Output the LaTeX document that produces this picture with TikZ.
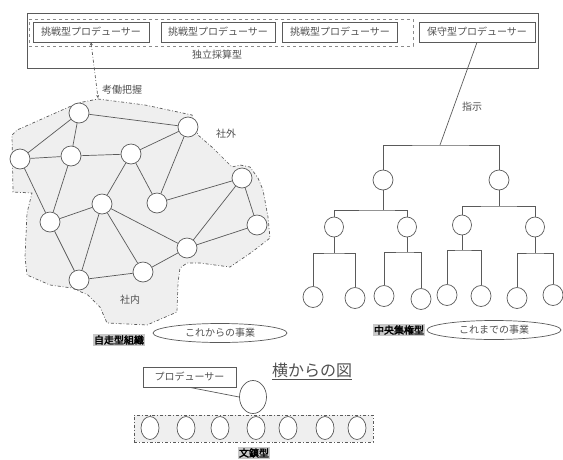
\documentclass[tikz,border=0pt]{standalone}
\usepackage{fontspec}
\setmainfont{Noto Sans CJK JP}
\newfontfamily\jpb[FakeBold=2.5]{Noto Sans CJK JP}
\usetikzlibrary{arrows.meta,shapes.geometric}
\definecolor{ln}{HTML}{5A5A5A}
\definecolor{tx}{HTML}{505050}
\definecolor{blobfill}{HTML}{EFEFEF}
\definecolor{lbl}{HTML}{C8C8C8}
\tikzset{
  box/.style={draw=ln, line width=0.7pt, inner sep=0pt, minimum height=20, text=tx},
  netnode/.style={circle, draw=ln, fill=white, minimum size=20, inner sep=0pt, line width=0.7pt},
  treenode/.style={ellipse, draw=ln, fill=white, minimum width=20, minimum height=21, inner sep=0pt, line width=0.7pt},
  rownode/.style={ellipse, draw=ln, fill=white, minimum width=18, minimum height=23, inner sep=0pt, line width=0.7pt},
  edge/.style={draw=ln, line width=0.7pt},
  ddline/.style={draw=ln, line width=0.7pt, dash pattern=on 3pt off 2pt on 0.8pt off 2pt},
  tag/.style={fill=lbl, font=\jpb\fontsize{10}{12}\selectfont, text=black, inner sep=1pt},
  txt/.style={text=tx, inner sep=0pt},
  oval/.style={ellipse, draw=ln, line width=0.7pt, minimum width=134, minimum height=19, inner sep=0pt, text=tx}
}
\begin{document}
\begin{tikzpicture}[x=1pt,y=-1pt, font=\fontsize{10}{12}\selectfont]
\useasboundingbox (0,0) rectangle (563,459);

% ---------- top boxes ----------
\node[box, minimum width=511, minimum height=55] (outer) at (282.5,40.5) {};
\node[draw=ln!70, dashed, line width=0.7pt, minimum width=384, minimum height=27, inner sep=0pt] (grp) at (221,32.5) {};
\node[box, minimum width=116] (p1) at (91,32) {挑戦型プロデューサー};
\node[box, minimum width=114] (p2) at (218,32) {挑戦型プロデューサー};
\node[box, minimum width=115] (p3) at (340,32) {挑戦型プロデューサー};
\node[box, minimum width=116] (p4) at (477,32) {保守型プロデューサー};
\node[txt] (indep) at (217,55) {独立採算型};

% ---------- self-running organisation ----------
\fill[blobfill] (98,99) -- (145,105) -- (192,115) -- (198,135) -- (213,148) -- (232,167)
  -- (240,165) -- (250,167) -- (258,178) -- (263,190) -- (268,217) -- (270,238)
  -- (252,252) -- (230,267) -- (200,263) -- (187,263) -- (180,268) -- (178,283)
  -- (177,312) -- (147,325) -- (107,323) -- (100,307) -- (88,295) -- (72,288)
  -- (50,285) -- (27,275) -- (25,257) -- (27,213) -- (32,193) -- (13,192)
  -- (12,135) -- (17,130) -- (78,103) -- cycle;
\draw[ddline] (98,99) -- (145,105) -- (192,115) -- (198,135) -- (213,148) -- (232,167)
  -- (240,165) -- (250,167) -- (258,178) -- (263,190) -- (268,217) -- (270,238)
  -- (252,252) -- (230,267) -- (200,263) -- (187,263) -- (180,268) -- (178,283)
  -- (177,312) -- (147,325) -- (107,323) -- (100,307) -- (88,295) -- (72,288)
  -- (50,285) -- (27,275) -- (25,257) -- (27,213) -- (32,193) -- (13,192)
  -- (12,135) -- (17,130) -- (78,103) -- cycle;

\node[netnode] (a) at (79,113) {};
\node[netnode] (b) at (188,127) {};
\node[netnode] (c) at (20,159) {};
\node[netnode] (d) at (71,156) {};
\node[netnode] (e) at (131,154) {};
\node[netnode] (f) at (157,203) {};
\node[netnode] (g) at (242,178) {};
\node[netnode] (h) at (102,204) {};
\node[netnode] (i) at (50,222) {};
\node[netnode] (j) at (257,225) {};
\node[netnode] (k) at (187,248) {};
\node[netnode] (l) at (143,272) {};
\node[netnode] (m) at (79,280) {};

\draw[edge] (a) -- (b);
\draw[edge] (a) -- (c);
\draw[edge] (a) -- (d);
\draw[edge] (c) -- (d);
\draw[edge] (c) -- (i);
\draw[edge] (d) -- (e);
\draw[edge] (d) -- (i);
\draw[edge] (e) -- (b);
\draw[edge] (e) -- (h);
\draw[edge] (e) -- (f);
\draw[edge] (f) -- (b);
\draw[edge] (f) -- (g);
\draw[edge] (g) -- (j);
\draw[edge] (g) -- (k);
\draw[edge] (j) -- (k);
\draw[edge] (h) -- (i);
\draw[edge] (h) -- (m);
\draw[edge] (h) -- (l);
\draw[edge] (h) -- (k);
\draw[edge] (i) -- (m);
\draw[edge] (m) -- (l);
\draw[edge] (l) -- (k);

\coordinate (nettop) at (98,98);
\draw[ddline, {Stealth[length=3pt,width=3pt]}-{Stealth[length=3pt,width=3pt]}] (p1.south) -- (nettop);
\node[txt] (grasp) at (122,90) {考働把握};
\node[txt] (outside) at (226,134) {社外};
\node[txt] (inside) at (130,300) {社内};

\node[tag] (selfrun) at (119,340) {自走型組織};
\node[oval] (future) at (220,333) {これからの事業};

% ---------- centralised tree ----------
\node[treenode, minimum height=20] (t1) at (383,180) {};
\node[treenode, minimum height=20] (t2) at (499,180) {};
\node[treenode, minimum width=19, minimum height=20] (t11) at (334,227) {};
\node[treenode, minimum width=19, minimum height=20] (t12) at (407,227) {};
\node[treenode, minimum width=19, minimum height=20] (t21) at (462,225) {};
\node[treenode, minimum width=19, minimum height=20] (t22) at (535,227) {};
\node[treenode] (l1) at (313,297) {};
\node[treenode] (l2) at (355,298) {};
\node[treenode] (l3) at (384,296) {};
\node[treenode] (l4) at (421,299) {};
\node[treenode] (l5) at (447,295) {};
\node[treenode] (l6) at (481,296) {};
\node[treenode] (l7) at (517,298) {};
\node[treenode] (l8) at (553,295) {};

\coordinate (top) at (440,145);
\coordinate (b1) at (383,210);
\coordinate (b2) at (499,206);
\coordinate (b11) at (334,253);
\coordinate (b12) at (407,252);
\coordinate (b21) at (462,250);
\coordinate (b22) at (535,253);

\draw[edge] (p4.south) -- (top);
\draw[edge] (t1.north) |- (top) -| (t2.north);
\draw[edge] (t1.south) -- (b1);
\draw[edge] (t11.north) |- (b1) -| (t12.north);
\draw[edge] (t2.south) -- (b2);
\draw[edge] (t21.north) |- (b2) -| (t22.north);
\draw[edge] (t11.south) -- (b11);
\draw[edge] (l1.north) |- (b11) -| (l2.north);
\draw[edge] (t12.south) -- (b12);
\draw[edge] (l3.north) |- (b12) -| (l4.north);
\draw[edge] (t21.south) -- (b21);
\draw[edge] (l5.north) |- (b21) -| (l6.north);
\draw[edge] (t22.south) -- (b22);
\draw[edge] (l7.north) |- (b22) -| (l8.north);

\node[txt] (order) at (472,107) {指示};
\node[tag] (central) at (399,330) {中央集権型};
\node[oval] (past) at (494,330) {これまでの事業};

% ---------- side view ----------
\node[draw=ln, line width=0.7pt, fill=blobfill, dash pattern=on 3pt off 2pt on 0.8pt off 2pt,
      minimum width=239, minimum height=27, inner sep=0pt] (band) at (253.5,428.5) {};
\node[rownode] (r1) at (150,428) {};
\node[rownode] (r2) at (186,428) {};
\node[rownode] (r3) at (220,428) {};
\node[rownode] (r4) at (256,428) {};
\node[rownode] (r5) at (288,428) {};
\node[rownode] (r6) at (325,428) {};
\node[rownode] (r7) at (357,428) {};
\node[ellipse, draw=ln, fill=white, line width=0.7pt, minimum width=27, minimum height=33, inner sep=0pt] (big) at (253,397) {};
\node[box, minimum width=93, fill=white] (prod) at (189.5,377) {プロデューサー};
\draw[edge] (prod.south) -- (big.west);
\node[txt, font=\fontsize{16}{19}\selectfont] (side) at (312,371) {\underline{横からの図}};
\node[tag] (paper) at (254,453) {文鎮型};
\end{tikzpicture}
\end{document}
